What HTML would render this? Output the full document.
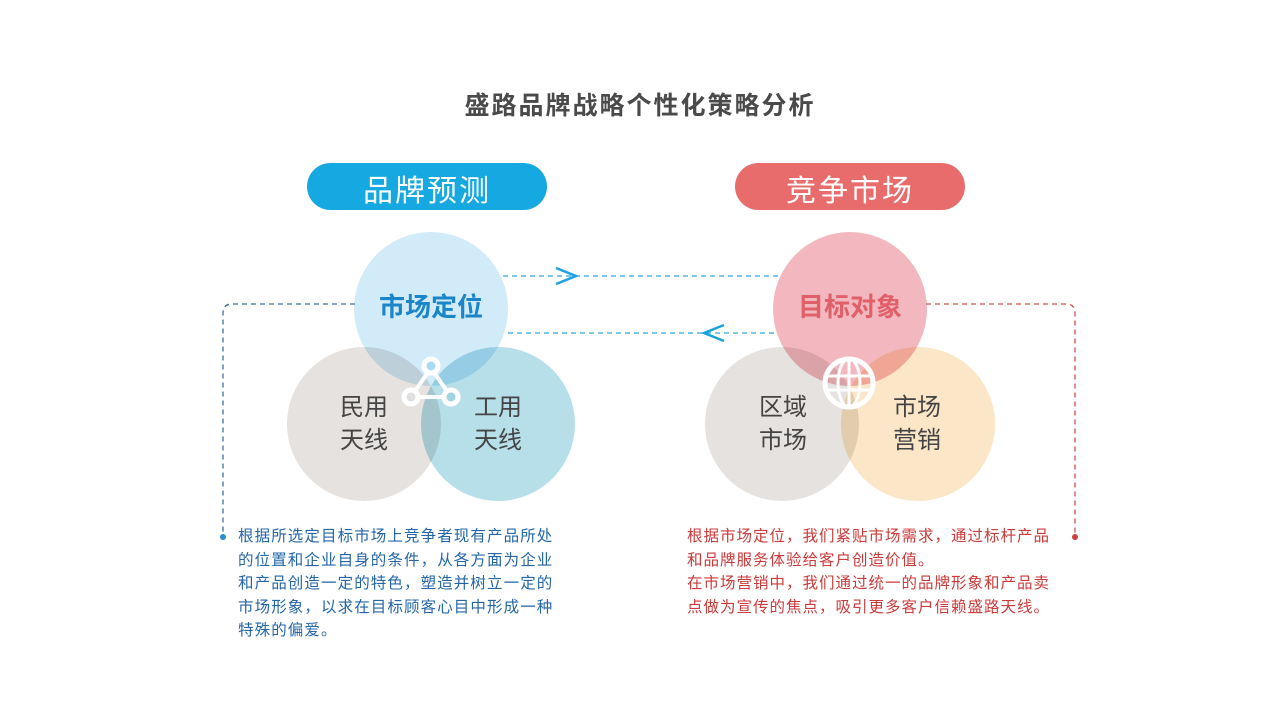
<!DOCTYPE html>
<html><head><meta charset="utf-8"><style>
body{margin:0;width:1280px;height:701px;background:#fff;overflow:hidden;font-family:"Liberation Sans","Noto Sans CJK SC",sans-serif;position:relative}
.t{position:absolute;white-space:nowrap}
</style></head><body>
<svg width="1280" height="701" style="position:absolute;left:0;top:0">
<g style="isolation:isolate">
<circle cx="431" cy="309" r="77" fill="#d2ebf9" style="mix-blend-mode:multiply"/>
<circle cx="364" cy="424" r="77" fill="#e6e2df" style="mix-blend-mode:multiply"/>
<circle cx="498" cy="424" r="77" fill="#b7dfea" style="mix-blend-mode:multiply"/>
<circle cx="850" cy="309" r="77" fill="#f3b8bf" style="mix-blend-mode:multiply"/>
<circle cx="782" cy="424" r="77" fill="#e6e2df" style="mix-blend-mode:multiply"/>
<circle cx="918" cy="424" r="77" fill="#fbe6c7" style="mix-blend-mode:multiply"/>
</g>
<rect x="307" y="163" width="240" height="47" rx="23.5" fill="#16a9e1"/>
<rect x="735" y="163" width="230" height="47" rx="23.5" fill="#e96c6c"/>
<g fill="none" stroke-dasharray="5,4" stroke-width="1.3">
<line x1="503" y1="276" x2="780" y2="276" stroke="#2ca6dc"/>
<line x1="508" y1="333" x2="776" y2="333" stroke="#2ca6dc"/>
<path d="M355 304 H232 Q223 304 223 313 V537" stroke="#3a6ea8"/>
<path d="M926 304 H1066 Q1075 304 1075 313 V537" stroke="#d0504a"/>
</g>
<polyline points="556,268 576,276 556,284" fill="none" stroke="#1aa3dc" stroke-width="2.5"/>
<polyline points="724,325 704,333 724,341" fill="none" stroke="#1aa3dc" stroke-width="2.5"/>
<circle cx="223" cy="537" r="3" fill="#2a8ccc"/>
<circle cx="1075" cy="537" r="3" fill="#d04040"/>
<g stroke="#fff" stroke-width="5" fill="none">
<path d="M431 368 L411 397 L451 397 Z" stroke-width="4"/>
<circle cx="431" cy="366" r="7" fill="#a9daf2"/>
<circle cx="411" cy="397" r="7" fill="#e0e0e0"/>
<circle cx="451" cy="397" r="7" fill="#9fd3e2"/>
</g>
<g stroke="#fff" fill="none">
<circle cx="849" cy="383" r="24" stroke-width="5"/>
<line x1="825" y1="376" x2="873" y2="376" stroke-width="3"/>
<line x1="825" y1="390" x2="873" y2="390" stroke-width="3"/>
<line x1="849" y1="359" x2="849" y2="407" stroke-width="3"/>
<ellipse cx="849" cy="383" rx="11" ry="24" stroke-width="3"/>
</g>
</svg>
<div class="t" style="left:0;width:1280px;text-align:center;top:86px;font-size:25px;letter-spacing:2px;font-weight:bold;color:#4a4a4a">盛路品牌战略个性化策略分析</div>
<div class="t" style="left:307px;width:240px;text-align:center;top:166px;font-size:30px;letter-spacing:2px;color:#fff">品牌预测</div>
<div class="t" style="left:735px;width:230px;text-align:center;top:166px;font-size:30px;letter-spacing:2px;color:#fff">竞争市场</div>
<div class="t" style="left:354px;width:154px;text-align:center;top:287px;font-size:26px;font-weight:bold;color:#1a86c8">市场定位</div>
<div class="t" style="left:773px;width:154px;text-align:center;top:287px;font-size:26px;font-weight:bold;color:#e0606a">目标对象</div>
<div class="t" style="left:340px;top:391px;font-size:24px;line-height:33px;color:#444">民用<br>天线</div>
<div class="t" style="left:474px;top:391px;font-size:24px;line-height:33px;color:#444">工用<br>天线</div>
<div class="t" style="left:759px;top:391px;font-size:24px;line-height:33px;color:#444">区域<br>市场</div>
<div class="t" style="left:893px;top:391px;font-size:24px;line-height:33px;color:#444">市场<br>营销</div>
<div class="t" style="left:238px;top:525px;font-size:15.5px;letter-spacing:1.1px;line-height:23.5px;color:#2466a8">根据所选定目标市场上竞争者现有产品所处<br>的位置和企业自身的条件，从各方面为企业<br>和产品创造一定的特色，塑造并树立一定的<br>市场形象，以求在目标顾客心目中形成一种<br>特殊的偏爱。</div>
<div class="t" style="left:687px;top:525px;font-size:15.5px;letter-spacing:1px;line-height:23.5px;color:#cc3a3a">根据市场定位，我们紧贴市场需求，通过标杆产品<br>和品牌服务体验给客户创造价值。<br>在市场营销中，我们通过统一的品牌形象和产品卖<br>点做为宣传的焦点，吸引更多客户信赖盛路天线。</div>
</body></html>
